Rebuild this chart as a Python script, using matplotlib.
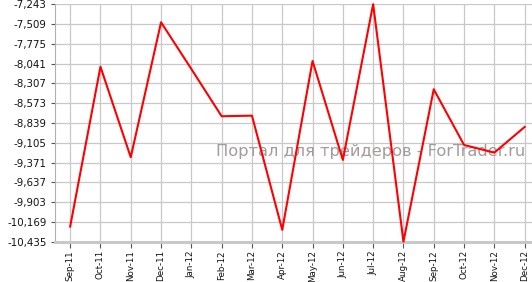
import numpy as np
import matplotlib
matplotlib.use("Agg")
import matplotlib.pyplot as plt

# Monthly values
months = ["Sep-11", "Oct-11", "Nov-11", "Dec-11", "Jan-12", "Feb-12", "Mar-12", "Apr-12",
          "May-12", "Jun-12", "Jul-12", "Aug-12", "Sep-12", "Oct-12", "Nov-12", "Dec-12"]
values = [-10.232, -8.083, -9.300, -7.486, -8.114, -8.749, -8.741, -10.276,
          -8.006, -9.336, -7.243, -10.435, -8.386, -9.135, -9.238, -8.893]

# Axis ticks: 12 equal steps between min and max
y_min, y_max = -10.435, -7.243
y_ticks = np.linspace(y_min, y_max, 13)
y_labels = [("%.3f" % v).replace(".", ",") for v in y_ticks]

fig = plt.figure(figsize=(5.32, 2.82), dpi=100)
# right edge goes past the figure, the original chart is cut there
ax = fig.add_axes([55 / 532, 40.3 / 282, 484.8 / 532, 237.5 / 282])

x = np.arange(len(months))
ax.plot(x, values, color="#ff0000", linewidth=1.5, zorder=3, clip_on=False)

ax.set_xlim(-0.5, len(months) - 0.5)
ax.set_ylim(y_min, y_max)
ax.set_xticks(x)
ax.set_xticklabels(months, rotation=90, fontsize=6.3, color="#111111")
ax.set_yticks(y_ticks)
ax.set_yticklabels(y_labels, fontsize=7.4, color="#111111")

ax.grid(True, color="#c8c8c8", linewidth=0.9)
ax.set_axisbelow(True)
ax.tick_params(axis="x", length=4, width=0.8, color="#555555", pad=2)
ax.tick_params(axis="y", length=3, width=0.8, color="#555555", pad=3)

for side in ["top", "right"]:
    ax.spines[side].set_visible(False)
ax.spines["left"].set_color("#b0b0b0")
ax.spines["left"].set_linewidth(0.8)
ax.spines["bottom"].set_color("#c8c8c8")
ax.spines["bottom"].set_linewidth(2.2)

# Watermark, under the red line
ax.text(216 / 532, 1 - 151 / 282, "Портал для трейдеров - ForTrader.ru",
        transform=fig.transFigure, fontsize=11.7, color="#a39c9c",
        va="center", ha="left", zorder=2)

fig.savefig("out.png", dpi=100)
